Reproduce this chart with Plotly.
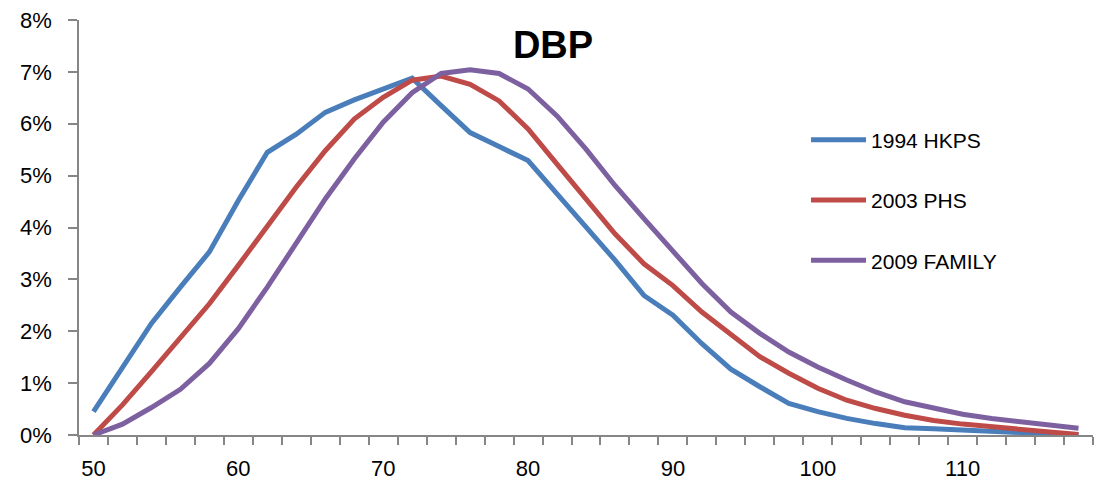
import plotly.graph_objects as go

bp = list(range(50, 120, 2))

hkps_1994 = [0.45, 1.31, 2.15, 2.85, 3.53, 4.52, 5.45, 5.80, 6.22, 6.46, 6.67, 6.88, 6.35, 5.83,
             5.56, 5.29, 4.65, 4.01, 3.37, 2.69, 2.31, 1.76, 1.27, 0.93, 0.61, 0.45, 0.32, 0.22,
             0.14, 0.12, 0.10, 0.07, 0.05, 0.02, 0.00]
phs_2003 = [0.00, 0.58, 1.22, 1.86, 2.53, 3.27, 4.04, 4.78, 5.48, 6.09, 6.51, 6.84, 6.92, 6.76,
            6.44, 5.90, 5.22, 4.55, 3.88, 3.30, 2.88, 2.37, 1.93, 1.51, 1.19, 0.90, 0.67, 0.51,
            0.38, 0.28, 0.21, 0.16, 0.11, 0.06, 0.01]
family_2009 = [0.00, 0.21, 0.53, 0.88, 1.38, 2.05, 2.85, 3.69, 4.55, 5.32, 6.03, 6.60, 6.97, 7.04,
               6.97, 6.67, 6.15, 5.51, 4.81, 4.17, 3.53, 2.92, 2.37, 1.96, 1.60, 1.31, 1.06, 0.83,
               0.64, 0.51, 0.40, 0.32, 0.26, 0.19, 0.13]

series_names = ["1994 HKPS", "2003 PHS", "2009 FAMILY"]
series_values = [hkps_1994, phs_2003, family_2009]
colors = ["#4A7EBB", "#BE4B48", "#7D60A0"]

x_tick_vals = [50, 60, 70, 80, 90, 100, 110]
y_tick_vals = [0, 0.01, 0.02, 0.03, 0.04, 0.05, 0.06, 0.07, 0.08]

fig = go.Figure()
for name, vals, c in zip(series_names, series_values, colors):
    fig.add_trace(go.Scatter(
        x=bp, y=[v / 100 for v in vals], name=name, mode="lines",
        line=dict(color=c, width=5), legendgroup=name,
    ))

font = "Liberation Sans, Arial, sans-serif"
axis_col = "#868686"

fig.update_layout(
    width=1103, height=482,
    margin=dict(l=71, r=18, t=12, b=55),
    paper_bgcolor="white", plot_bgcolor="white",
    font=dict(family=font, size=21, color="black"),
    title=dict(text="<b>DBP</b>", x=545 / 1103, xanchor="center", xref="container",
               y=1 - 37 / 482, yanchor="middle", font=dict(size=38, color="black")),
    showlegend=True,
    legend=dict(x=0.717, xanchor="left", y=0.76, yanchor="top",
                traceorder="grouped", tracegroupgap=30, itemwidth=55,
                font=dict(size=21), bgcolor="rgba(0,0,0,0)"),
    xaxis=dict(range=[49, 119], showgrid=False, zeroline=False, automargin=False,
               showline=True, linecolor=axis_col, linewidth=1.5,
               tickmode="array", tickvals=x_tick_vals, ticks="outside", ticklen=0,
               ticklabelstandoff=13, tickfont=dict(size=22), ticklabeloverflow="allow",
               minor=dict(tick0=49, dtick=2, ticks="outside", ticklen=8,
                          tickcolor=axis_col, tickwidth=1.5, showgrid=False)),
    yaxis=dict(range=[0, 0.08], showgrid=False, zeroline=False, automargin=False,
               showline=True, linecolor=axis_col, linewidth=1.5,
               tickmode="array", tickvals=y_tick_vals, tickformat=".0%",
               ticks="outside", ticklen=9, tickcolor=axis_col, tickwidth=1.5,
               ticklabelstandoff=12, tickfont=dict(size=22), ticklabeloverflow="allow"),
)

fig.write_html("out.html")
